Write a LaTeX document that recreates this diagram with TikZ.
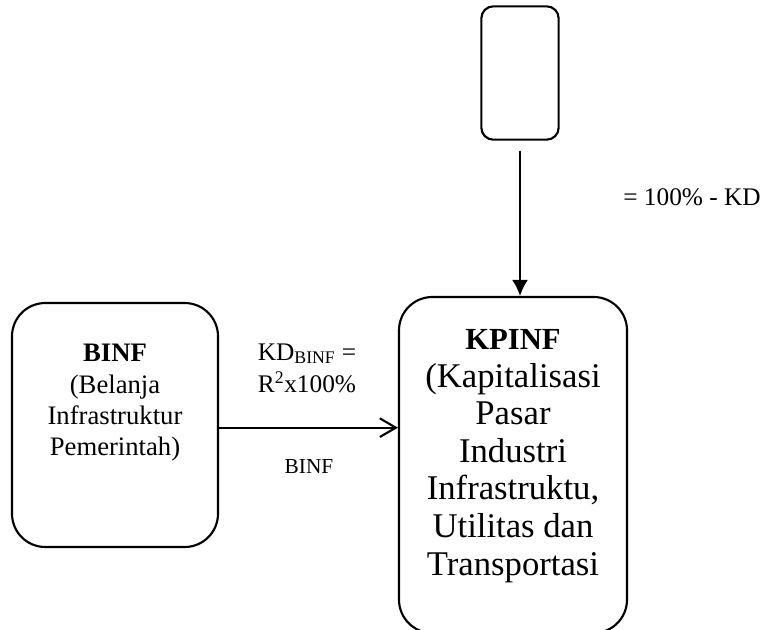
\documentclass[tikz,border=0pt]{standalone}
\usepackage{fontspec}
\setmainfont{Liberation Serif}
\usetikzlibrary{arrows.meta,positioning}
\begin{document}
\begin{tikzpicture}[x=0.75pt,y=-0.75pt,line width=1.6pt,
  box/.style={draw,rounded corners=25pt,inner sep=0pt},
  txt/.style={align=center,inner sep=0pt}]
\useasboundingbox (0,0) rectangle (764,629);
% boxes
\node[box,minimum width=154.5pt,minimum height=183pt] (binf) at (115,425) {};
\node[box,minimum width=171pt,minimum height=252pt] (kpinf) at (513,465) {};
\node[box,rounded corners=9pt,minimum width=58pt,minimum height=100pt] (src) at (520,73) {};
% texts in the boxes
\node[txt,font=\fontsize{20}{23.5}\selectfont] (binftext) at (115,403)
  {\textbf{BINF}\\(Belanja\\Infrastruktur\\Pemerintah)};
\node[txt,font=\fontsize{26}{28.2}\selectfont] (kpinftext) at (513,456)
  {{\fontsize{23}{28.2}\selectfont\textbf{KPINF}}\\(Kapitalisasi\\Pasar\\Industri\\Infrastruktu,\\Utilitas dan\\Transportasi};
% arrows
\draw[-{Latex[length=12pt,width=12pt]}] ([yshift=-7.5pt]src.south) -- (src.south |- kpinf.north);
\draw[-{Straight Barb[length=12pt,width=14pt]}] ([yshift=-2pt]binf.east) -- ([yshift=-2pt]binf.east -| kpinf.west);
% labels
\node[txt,font=\fontsize{19}{24}\selectfont] (kd) at (307,368)
  {KD\textsubscript{BINF} =\\R\textsuperscript{2}x100\%};
\node[txt,font=\fontsize{16}{19}\selectfont] (binflbl) at (309,467) {BINF};
\node[txt,font=\fontsize{19}{23}\selectfont] (rest) at (692,197) {= 100\% - KD};
\end{tikzpicture}
\end{document}
